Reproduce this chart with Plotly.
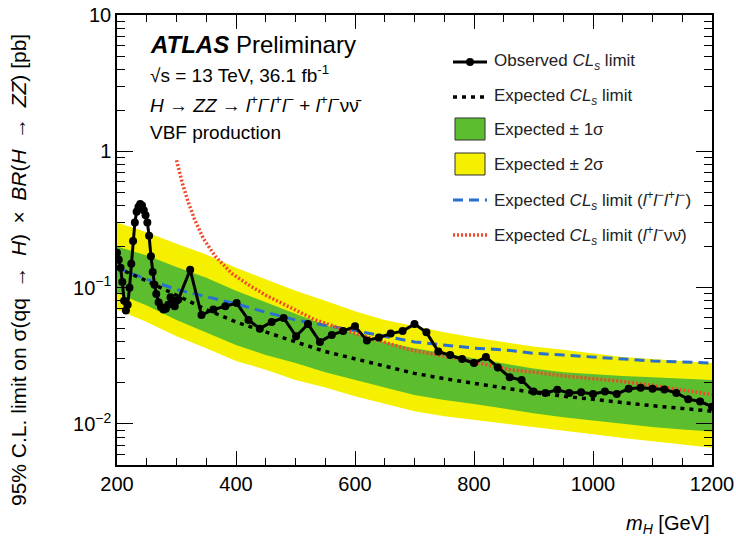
import plotly.graph_objects as go
import numpy as np

# ---------------- data ----------------
obs_mass = [200, 203, 206, 209, 212, 215, 218, 221, 224, 227, 230, 233, 236, 239, 242, 245,
            248, 251, 254, 257, 260, 263, 266, 270, 274, 278, 282, 286, 290, 294, 297, 300,
            303, 323, 342, 362, 382, 401, 421, 440, 460, 480, 501, 521, 541, 561, 580, 600,
            620, 640, 660, 680, 700, 720, 740, 760, 780, 800, 820, 840, 860, 880, 900, 920,
            940, 960, 980, 1000, 1020, 1040, 1060, 1080, 1100, 1120, 1140, 1160, 1180, 1200]
obs_limit = [0.18, 0.16, 0.14, 0.11, 0.08, 0.068, 0.075, 0.10, 0.15, 0.22, 0.30, 0.36, 0.39, 0.41,
             0.40, 0.37, 0.34, 0.30, 0.24, 0.17, 0.13, 0.105, 0.09, 0.078, 0.072, 0.069, 0.070,
             0.075, 0.085, 0.080, 0.073, 0.080, 0.082, 0.135, 0.063, 0.069, 0.073, 0.077, 0.058,
             0.050, 0.056, 0.060, 0.044, 0.054, 0.040, 0.045, 0.048, 0.052, 0.041, 0.043, 0.046,
             0.048, 0.054, 0.047, 0.034, 0.032, 0.030, 0.028, 0.031, 0.026, 0.022, 0.021, 0.0173,
             0.0169, 0.0178, 0.0169, 0.0171, 0.0166, 0.0173, 0.0166, 0.0181, 0.0184, 0.0181,
             0.0179, 0.0169, 0.0152, 0.0146, 0.0134]

exp_mass = [200, 250, 300, 350, 400, 450, 500, 550, 600, 650, 700, 750, 800, 850, 900, 950,
            1000, 1050, 1100, 1150, 1200]
exp_limit = [0.140, 0.112, 0.088, 0.069, 0.056, 0.047, 0.040, 0.034, 0.030, 0.0265, 0.0235,
             0.0215, 0.0198, 0.0183, 0.0170, 0.0160, 0.0151, 0.0143, 0.0136, 0.0130, 0.0124]
exp_p1 = [0.200, 0.172, 0.142, 0.118, 0.095, 0.078, 0.064, 0.053, 0.046, 0.040, 0.036, 0.033,
          0.030, 0.0275, 0.0255, 0.024, 0.0232, 0.0225, 0.022, 0.0215, 0.021]
exp_m1 = [0.091, 0.074, 0.058, 0.047, 0.038, 0.032, 0.028, 0.024, 0.021, 0.0185, 0.0163, 0.015,
          0.014, 0.0129, 0.0120, 0.0112, 0.0106, 0.0100, 0.0095, 0.0091, 0.0088]
exp_p2 = [0.300, 0.255, 0.210, 0.175, 0.140, 0.115, 0.095, 0.080, 0.067, 0.058, 0.052, 0.047,
          0.043, 0.040, 0.037, 0.035, 0.033, 0.031, 0.030, 0.029, 0.028]
exp_m2 = [0.069, 0.056, 0.044, 0.036, 0.029, 0.025, 0.021, 0.0185, 0.016, 0.0141, 0.0124, 0.0114,
          0.0107, 0.0101, 0.0095, 0.0089, 0.0084, 0.0079, 0.0075, 0.0071, 0.0067]

llll_mass = exp_mass
llll_limit = [0.140, 0.115, 0.097, 0.086, 0.076, 0.066, 0.058, 0.053, 0.048, 0.044, 0.040, 0.038,
              0.036, 0.035, 0.033, 0.032, 0.031, 0.030, 0.029, 0.0285, 0.028]

llvv_mass = [300, 310, 320, 330, 345, 365, 393, 421, 450, 477, 533, 608, 692, 776, 860, 900, 950,
             1000, 1050, 1100, 1150, 1200]
llvv_limit = [0.86, 0.58, 0.42, 0.32, 0.23, 0.17, 0.127, 0.105, 0.088, 0.077, 0.058, 0.045, 0.035,
              0.030, 0.025, 0.024, 0.0225, 0.0215, 0.0205, 0.0192, 0.0178, 0.0164]

x_ticks = [200, 400, 600, 800, 1000, 1200]
y_tickvals = [0.01, 0.1, 1, 10]
y_ticktext = ["10<sup>\u22122</sup>", "10<sup>\u22121</sup>", "1", "10"]

# ---------------- style ----------------
FONT = "Liberation Sans, Arial, sans-serif"
YELLOW = "#f5f000"
GREEN = "#5cbd2e"
BLUE = "#2a6fd0"
RED = "#f2492c"

fig = go.Figure()

# 2 sigma band
fig.add_trace(go.Scatter(x=exp_mass, y=exp_p2, mode="lines", line=dict(width=0, color=YELLOW),
                         showlegend=False, hoverinfo="skip"))
fig.add_trace(go.Scatter(x=exp_mass, y=exp_m2, mode="lines", line=dict(width=0, color=YELLOW),
                         fill="tonexty", fillcolor=YELLOW, showlegend=False, hoverinfo="skip"))
# 1 sigma band
fig.add_trace(go.Scatter(x=exp_mass, y=exp_p1, mode="lines", line=dict(width=0, color=GREEN),
                         showlegend=False, hoverinfo="skip"))
fig.add_trace(go.Scatter(x=exp_mass, y=exp_m1, mode="lines", line=dict(width=0, color=GREEN),
                         fill="tonexty", fillcolor=GREEN, showlegend=False, hoverinfo="skip"))

# channel expectations
fig.add_trace(go.Scatter(x=llll_mass, y=llll_limit, mode="lines",
                         line=dict(color=BLUE, width=3, dash="10px,6px"), showlegend=False))
fig.add_trace(go.Scatter(x=llvv_mass, y=llvv_limit, mode="lines",
                         line=dict(color=RED, width=3.5, dash="2px,2px"), showlegend=False))
# expected combined
fig.add_trace(go.Scatter(x=exp_mass, y=exp_limit, mode="lines",
                         line=dict(color="black", width=3.5, dash="4px,5px"), showlegend=False))
# observed
fig.add_trace(go.Scatter(x=obs_mass, y=obs_limit, mode="lines+markers",
                         line=dict(color="black", width=3),
                         marker=dict(color="black", size=8), showlegend=False))

# ---------------- layout ----------------
L, R, T, B = 117, 24, 15, 79
W, H = 736, 544
pw, ph = W - L - R, H - T - B


def px(xpix):
    return (xpix - L) / pw


def py(ypix):
    return (H - B - ypix) / ph


minor_y = [m * 10.0 ** e for e in range(-3, 1) for m in range(2, 10)]

fig.update_layout(
    template="none",
    width=W, height=H,
    margin=dict(l=L, r=R, t=T, b=B, autoexpand=False),
    paper_bgcolor="white", plot_bgcolor="white",
    font=dict(family=FONT, color="black"),
    showlegend=False,
    xaxis=dict(range=[200, 1200], tickvals=x_ticks, ticks="inside", ticklen=14, tickwidth=1.2,
               tickcolor="black", showline=True, linecolor="black", linewidth=1.5, mirror="ticks",
               showgrid=False, zeroline=False, automargin=False, tickfont=dict(size=20, family=FONT),
               minor=dict(dtick=50, ticks="inside", ticklen=7, tickwidth=1.2, tickcolor="black",
                          showgrid=False)),
    yaxis=dict(type="log", range=[np.log10(0.005), 1], tickvals=y_tickvals, ticktext=y_ticktext,
               ticks="inside", ticklen=16, tickwidth=1.2, tickcolor="black", showline=True,
               linecolor="black", linewidth=1.5, mirror="ticks", showgrid=False, zeroline=False,
               automargin=False, tickfont=dict(size=20, family=FONT),
               minor=dict(tickvals=minor_y, ticks="inside", ticklen=8, tickwidth=1.2,
                          tickcolor="black", showgrid=False)),
)

ann = []
SP = "\u2002"
# axis titles
ann.append(dict(text="<i>m</i><sub><i>H</i></sub> [GeV]", x=1.0, y=py(524), xref="paper", yref="paper",
                xanchor="right", yanchor="middle", showarrow=False, font=dict(size=20, family=FONT)))
ann.append(dict(text="95% C.L. limit on \u03c3(qq" + SP + "\u2192" + SP + "<i>H</i>)" + SP + "\u00d7" + SP +
                "<i>BR</i>(<i>H</i>" + SP + "\u2192" + SP + "<i>ZZ</i>) [pb]",
                x=px(18), y=py(270), xref="paper", yref="paper", textangle=-90,
                xanchor="center", yanchor="middle", showarrow=False, font=dict(size=21, family=FONT)))
# labels
ann.append(dict(text="<b><i>ATLAS</i></b> Preliminary", x=px(148), y=py(45), xref="paper", yref="paper",
                xanchor="left", yanchor="middle", showarrow=False, font=dict(size=24, family=FONT)))
ann.append(dict(text="\u221as = 13 TeV, 36.1 fb<sup>-1</sup>", x=px(148), y=py(74), xref="paper",
                yref="paper", xanchor="left", yanchor="middle", showarrow=False,
                font=dict(size=19, family=FONT)))
ann.append(dict(text="<i>H</i> \u2192 <i>ZZ</i> \u2192 <i>l</i><sup>+</sup><i>l</i><sup>\u2212</sup><i>l</i><sup>+</sup><i>l</i><sup>\u2212</sup> + <i>l</i><sup>+</sup><i>l</i><sup>\u2212</sup>\u03bd\u03bd\u0304",
                x=px(148), y=py(104), xref="paper", yref="paper", xanchor="left", yanchor="middle",
                showarrow=False, font=dict(size=19, family=FONT)))
ann.append(dict(text="VBF production", x=px(148), y=py(132), xref="paper", yref="paper",
                xanchor="left", yanchor="middle", showarrow=False, font=dict(size=19, family=FONT)))

# legend
leg_y = [62, 97, 129, 164, 200, 235]
leg_txt = [
    "Observed <i>CL</i><sub><i>s</i></sub> limit",
    "Expected <i>CL</i><sub><i>s</i></sub> limit",
    "Expected \u00b1 1\u03c3",
    "Expected \u00b1 2\u03c3",
    "Expected <i>CL</i><sub><i>s</i></sub> limit (<i>l</i><sup>+</sup><i>l</i><sup>\u2212</sup><i>l</i><sup>+</sup><i>l</i><sup>\u2212</sup>)",
    "Expected <i>CL</i><sub><i>s</i></sub> limit (<i>l</i><sup>+</sup><i>l</i><sup>\u2212</sup>\u03bd\u03bd\u0304)",
]
for yy, t in zip(leg_y, leg_txt):
    ann.append(dict(text=t, x=px(492), y=py(yy), xref="paper", yref="paper", xanchor="left",
                    yanchor="middle", showarrow=False, font=dict(size=17, family=FONT, color="#222")))

shapes = []
x0, x1 = px(453), px(487)
shapes.append(dict(type="line", xref="paper", yref="paper", x0=x0, x1=x1, y0=py(62), y1=py(62),
                   line=dict(color="black", width=3)))
shapes.append(dict(type="circle", xref="paper", yref="paper", x0=px(466), x1=px(474),
                   y0=py(66), y1=py(58), fillcolor="black", line=dict(color="black", width=0)))
shapes.append(dict(type="line", xref="paper", yref="paper", x0=x0, x1=x1, y0=py(97), y1=py(97),
                   line=dict(color="black", width=3.5, dash="4px,5px")))
shapes.append(dict(type="rect", xref="paper", yref="paper", x0=px(455), x1=px(485), y0=py(140),
                   y1=py(118), fillcolor=GREEN, line=dict(color="#333", width=1)))
shapes.append(dict(type="rect", xref="paper", yref="paper", x0=px(455), x1=px(485), y0=py(175),
                   y1=py(153), fillcolor=YELLOW, line=dict(color="#333", width=1)))
shapes.append(dict(type="line", xref="paper", yref="paper", x0=x0, x1=x1, y0=py(200), y1=py(200),
                   line=dict(color=BLUE, width=3, dash="10px,6px")))
shapes.append(dict(type="line", xref="paper", yref="paper", x0=x0, x1=x1, y0=py(235), y1=py(235),
                   line=dict(color=RED, width=3.5, dash="2px,2px")))

fig.update_layout(annotations=ann, shapes=shapes)

fig.write_html("out.html", config={"displayModeBar": False},
               post_script="document.body.style.margin='0';document.body.style.overflow='hidden';")
